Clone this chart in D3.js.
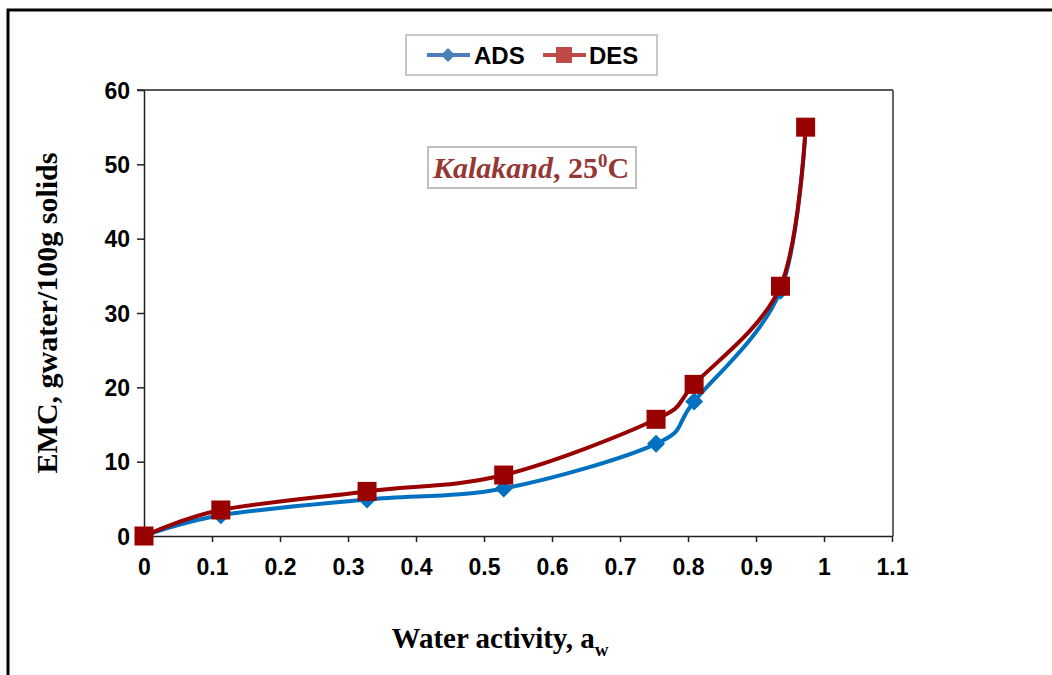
<!DOCTYPE html>
<html>
<head>
<meta charset="utf-8">
<script src="https://cdn.jsdelivr.net/npm/d3@7"></script>
<style>
  body { margin: 0; background: #fff; }
  svg { display: block; }
</style>
</head>
<body>
<svg id="chart" width="1052" height="675"></svg>
<script>
// water activity (x) values
var aw = [0, 0.113, 0.328, 0.529, 0.753, 0.809, 0.936, 0.973];
// EMC, g water / 100 g solids
var ads = [0, 2.8, 4.9, 6.4, 12.4, 18.1, 33.0, 55.0];
var des = [0, 3.5, 6.0, 8.2, 15.7, 20.4, 33.6, 55.0];
var xTicks = [0, 0.1, 0.2, 0.3, 0.4, 0.5, 0.6, 0.7, 0.8, 0.9, 1, 1.1];
var yTicks = [0, 10, 20, 30, 40, 50, 60];

var svg = d3.select("#chart");

/* outer frame */
svg.append("rect").attr("x", 8).attr("y", 10).attr("width", 1060).attr("height", 680)
  .attr("fill", "none").attr("stroke", "#000").attr("stroke-width", 3);

var x = d3.scaleLinear().domain([0, 1.1]).range([144, 892]);
var y = d3.scaleLinear().domain([0, 60]).range([536, 90]);

/* plot area border: top black, right grey */
svg.append("line").attr("x1", 137).attr("x2", 893).attr("y1", 90).attr("y2", 90)
  .attr("stroke", "#222").attr("stroke-width", 1.5);
svg.append("line").attr("x1", 893).attr("x2", 893).attr("y1", 90).attr("y2", 536)
  .attr("stroke", "#666").attr("stroke-width", 2);

var xAxis = svg.append("g").attr("transform", "translate(0,536)")
  .call(d3.axisBottom(x).tickValues(xTicks).tickSize(6).tickSizeOuter(0)
    .tickFormat(function(d) { return d3.format("")(+d.toFixed(1)); }));
var yAxis = svg.append("g").attr("transform", "translate(144,0)")
  .call(d3.axisLeft(y).tickValues(yTicks).tickSize(7).tickSizeOuter(0));

[xAxis, yAxis].forEach(function(a) {
  a.attr("font-size", null).attr("font-family", null);
  a.select(".domain").attr("stroke", "#222").attr("stroke-width", 1.5);
  a.selectAll(".tick line").attr("stroke", "#222").attr("stroke-width", 1.5);
  a.selectAll("text")
    .style("font-family", "'Liberation Sans', Arial, sans-serif")
    .style("font-weight", "bold").style("font-size", "23px").attr("fill", "#000");
});
xAxis.selectAll("text").attr("y", 14).attr("dy", "1.1em");
yAxis.selectAll("text").attr("x", -14).attr("dy", "0.36em");

/* curves */
var blue = "#0070c0", red = "#990000";
var line = d3.line().curve(d3.curveCardinal.tension(0))
  .x(function(d) { return x(d[0]); }).y(function(d) { return y(d[1]); });

var adsPts = aw.map(function(v, i) { return [v, ads[i]]; });
var desPts = aw.map(function(v, i) { return [v, des[i]]; });

svg.append("path").datum(adsPts).attr("d", line).attr("fill", "none")
  .attr("stroke", blue).attr("stroke-width", 4);
svg.selectAll(".dia").data(adsPts).enter().append("path")
  .attr("transform", function(d) { return "translate(" + x(d[0]) + "," + y(d[1]) + ")"; })
  .attr("d", "M0,-9L9,0L0,9L-9,0Z").attr("fill", blue);

svg.append("path").datum(desPts).attr("d", line).attr("fill", "none")
  .attr("stroke", red).attr("stroke-width", 4);
svg.selectAll(".sq").data(desPts).enter().append("rect")
  .attr("x", function(d) { return x(d[0]) - 9.5; }).attr("y", function(d) { return y(d[1]) - 9.5; })
  .attr("width", 19).attr("height", 19).attr("fill", red);

/* legend */
var lg = svg.append("g");
lg.append("rect").attr("x", 406).attr("y", 35).attr("width", 251).attr("height", 40)
  .attr("fill", "#fff").attr("stroke", "#c8c8c8").attr("stroke-width", 2);
lg.append("line").attr("x1", 427).attr("x2", 470).attr("y1", 55).attr("y2", 55)
  .attr("stroke", "#4a7ebb").attr("stroke-width", 4);
lg.append("path").attr("transform", "translate(448,55)").attr("d", "M0,-7L7,0L0,7L-7,0Z").attr("fill", "#4a7ebb");
lg.append("text").attr("x", 474).attr("y", 64).text("ADS");
lg.append("line").attr("x1", 543).attr("x2", 586).attr("y1", 55).attr("y2", 55)
  .attr("stroke", "#be4b48").attr("stroke-width", 4);
lg.append("rect").attr("x", 556).attr("y", 47).attr("width", 16).attr("height", 16).attr("fill", "#be4b48");
lg.append("text").attr("x", 589).attr("y", 64).text("DES");
lg.selectAll("text").style("font-family", "'Liberation Sans', Arial, sans-serif")
  .style("font-weight", "bold").style("font-size", "24px").attr("fill", "#000");

/* annotation box */
svg.append("rect").attr("x", 428).attr("y", 147).attr("width", 208).attr("height", 41)
  .attr("fill", "#fff").attr("stroke", "#c0c0c0").attr("stroke-width", 2);
var ann = svg.append("text").attr("x", 433).attr("y", 178)
  .style("font-family", "'Liberation Serif', 'Times New Roman', serif").style("font-weight", "bold")
  .style("font-size", "30px").attr("fill", "#953735");
ann.append("tspan").style("font-style", "italic").text("Kalakand");
ann.append("tspan").text(", 25");
ann.append("tspan").style("font-size", "19px").attr("dy", -11).text("0");
ann.append("tspan").attr("dy", 11).text("C");

/* axis titles */
var xt = svg.append("text").attr("x", 500).attr("y", 648).attr("text-anchor", "middle")
  .style("font-family", "'Liberation Serif', 'Times New Roman', serif").style("font-weight", "bold")
  .style("font-size", "29px").attr("fill", "#000");
xt.append("tspan").text("Water activity, a");
xt.append("tspan").style("font-size", "19px").attr("dy", 8).text("w");

svg.append("text").attr("transform", "translate(57,313) rotate(-90)").attr("text-anchor", "middle")
  .style("font-family", "'Liberation Serif', 'Times New Roman', serif").style("font-weight", "bold")
  .style("font-size", "30px").attr("fill", "#000").text("EMC, gwater/100g solids");
</script>
</body>
</html>
